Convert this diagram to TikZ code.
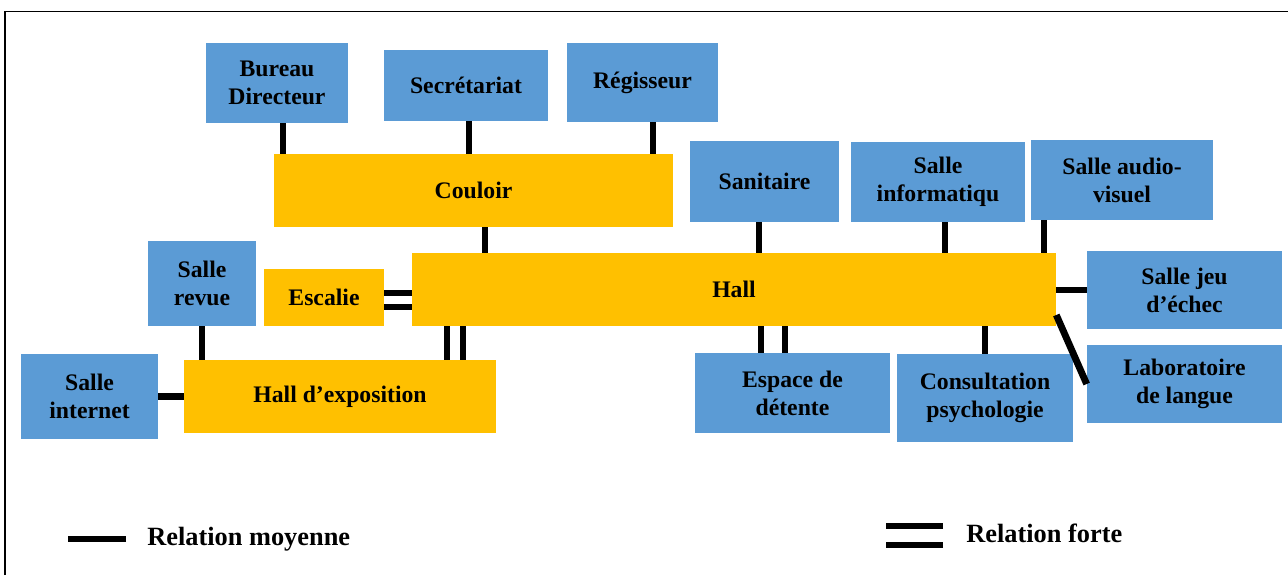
\documentclass[tikz,border=0pt]{standalone}
\usepackage{fontspec}
\setmainfont{Liberation Serif}
\usepackage{xcolor}
\usepackage{tikz}
\definecolor{bleupiece}{HTML}{5B9BD5}
\definecolor{jaunepiece}{HTML}{FFC000}

\begin{document}
\begin{tikzpicture}[x=0.02cm,y=-0.02cm,
  bleu/.style={rectangle,fill=bleupiece,inner sep=1pt,align=center,font=\fontsize{13.5}{16}\selectfont\bfseries},
  jaune/.style={rectangle,fill=jaunepiece,inner sep=1pt,align=center,font=\fontsize{13.5}{16}\selectfont\bfseries},
  lien/.style={line width=3.9pt},
  legende/.style={anchor=west,inner sep=0pt,font=\fontsize{15}{18}\selectfont\bfseries}]
  \useasboundingbox (0,0) rectangle (1288,575);
  \draw[line width=0.75pt] (5,575) -- (5,11.5) -- (1288,11.5);
  % pieces
  \node[bleu,minimum width=2.84cm,minimum height=1.6cm] (bureau) at (277,83) {Bureau\\Directeur};
  \node[bleu,minimum width=3.28cm,minimum height=1.42cm] (secr) at (466,85.5) {Secrétariat};
  \node[bleu,minimum width=3.02cm,minimum height=1.58cm] (regis) at (642.5,82.5) {Régisseur};
  \node[jaune,minimum width=7.98cm,minimum height=1.46cm] (couloir) at (473.5,190.5) {Couloir};
  \node[bleu,minimum width=2.98cm,minimum height=1.62cm] (sanit) at (764.5,181.5) {Sanitaire};
  \node[bleu,minimum width=3.48cm,minimum height=1.6cm] (info) at (938,182) {Salle\\informatiqu};
  \node[bleu,minimum width=3.64cm,minimum height=1.6cm] (audio) at (1122,180) {Salle audio-\\visuel};
  \node[bleu,minimum width=2.16cm,minimum height=1.7cm] (revue) at (202,283.5) {Salle\\revue};
  \node[jaune,minimum width=2.4cm,minimum height=1.14cm] (escalie) at (324,297.5) {Escalie};
  \node[jaune,minimum width=12.88cm,minimum height=1.46cm] (hall) at (734,289.5) {Hall};
  \node[bleu,minimum width=3.9cm,minimum height=1.56cm] (jeu) at (1184.5,290) {Salle jeu\\d’échec};
  \node[bleu,minimum width=2.74cm,minimum height=1.7cm] (internet) at (89.5,396.5) {Salle\\internet};
  \node[jaune,minimum width=6.24cm,minimum height=1.46cm] (expo) at (340,396.5) {Hall d’exposition};
  \node[bleu,minimum width=3.9cm,minimum height=1.6cm] (espace) at (792.5,393) {Espace de\\détente};
  \node[bleu,minimum width=3.52cm,minimum height=1.76cm] (consult) at (985,398) {Consultation\\psychologie};
  \node[bleu,minimum width=3.9cm,minimum height=1.56cm] (labo) at (1184.5,384) {Laboratoire\\de langue};
  % relations moyennes
  \draw[lien] ([xshift=0.12cm]bureau.south) -- ([xshift=0.12cm]bureau.south |- couloir.north);
  \draw[lien] ([xshift=0.06cm]secr.south) -- ([xshift=0.06cm]secr.south |- couloir.north);
  \draw[lien] ([xshift=0.21cm]regis.south) -- ([xshift=0.21cm]regis.south |- couloir.north);
  \draw[lien] ([xshift=0.23cm]couloir.south) -- ([xshift=0.23cm]couloir.south |- hall.north);
  \draw[lien] ([xshift=-0.11cm]sanit.south) -- ([xshift=-0.11cm]sanit.south |- hall.north);
  \draw[lien] ([xshift=0.14cm]info.south) -- ([xshift=0.14cm]info.south |- hall.north);
  \draw[lien] ([xshift=-1.56cm]audio.south) -- ([xshift=-1.56cm]audio.south |- hall.north);
  \draw[lien] (revue) -- (revue |- expo.north);
  \draw[lien] (internet) -- (expo);
  \draw[lien] (consult) -- (consult |- hall.south);
  \draw[lien] (jeu) -- (jeu -| hall.east);
  \draw[lien] ([yshift=-0.51cm]hall.east) -- (labo.west);
  % relations fortes
  \foreach \dy in {0.09cm,-0.19cm}
    \draw[lien] ([yshift=\dy]escalie.east) -- ([yshift=\dy]escalie.east -| hall.west);
  \foreach \dx in {2.14cm,2.46cm}
    \draw[lien] ([xshift=\dx]expo.north) -- ([xshift=\dx]expo.north |- hall.south);
  \foreach \dx in {-0.63cm,-0.15cm}
    \draw[lien] ([xshift=\dx]espace.north) -- ([xshift=\dx]espace.north |- hall.south);
  % legende
  \node[legende] (moyenne) at (147,539) {Relation moyenne};
  \node[legende] (forte) at (966,533) {Relation forte};
  \draw[lien] ([xshift=-0.42cm]moyenne.west) -- ++(-58,0);
  \draw[lien] ([xshift=-0.46cm,yshift=0.14cm]forte.west) -- ++(-57,0);
  \draw[lien] ([xshift=-0.46cm,yshift=-0.24cm]forte.west) -- ++(-57,0);
\end{tikzpicture}
\end{document}
